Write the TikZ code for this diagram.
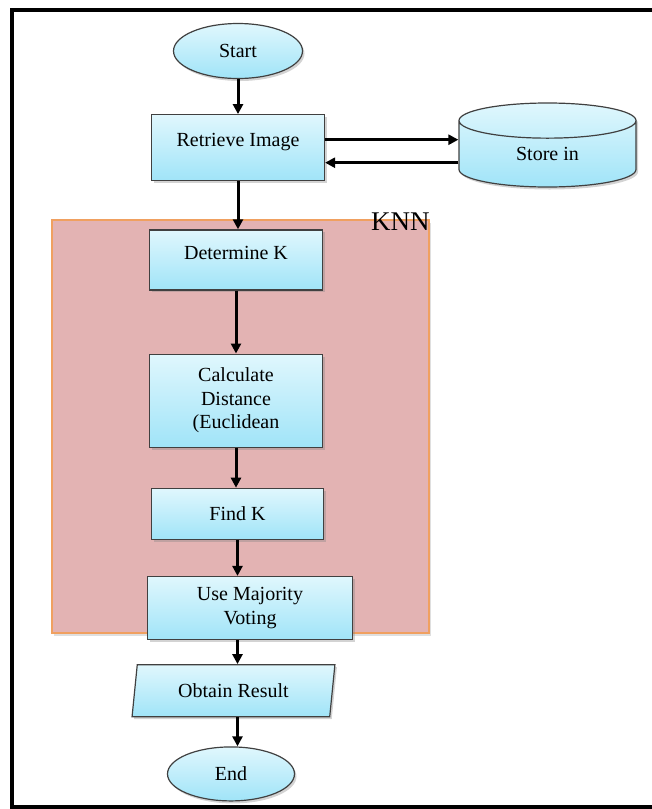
\documentclass[tikz,border=0pt]{standalone}
\usepackage{fontspec}
\setmainfont{Liberation Serif}
\usetikzlibrary{positioning,shapes.geometric,shadows,arrows.meta}
\definecolor{boxtop}{RGB}{224,247,253}
\definecolor{boxbot}{RGB}{160,228,248}
\definecolor{knnfill}{RGB}{227,179,179}
\definecolor{knnline}{RGB}{240,160,96}
\tikzset{
  process/.style={rectangle, draw=black!75, line width=1.2pt, top color=boxtop, bottom color=boxbot,
    inner sep=0pt, align=center, font=\fontsize{20}{23.5}\selectfont,
    drop shadow={shadow xshift=2pt, shadow yshift=-2.5pt, opacity=0.35}},
  terminal/.style={process, ellipse},
  io/.style={process, trapezium, trapezium left angle=78, trapezium right angle=102, trapezium stretches=true},
  store/.style={process, cylinder, shape border rotate=90, aspect=0.56},
  knnbox/.style={rectangle, draw=knnline, line width=1.5pt, fill=knnfill,
    drop shadow={shadow xshift=2pt, shadow yshift=-2.5pt, opacity=0.25}},
  flow/.style={-{Triangle[length=10pt,width=10pt]}, line width=3pt},
}
\begin{document}
\begin{tikzpicture}[x=1pt, y=-1pt]
	\useasboundingbox (0,0) rectangle (652,809);
	% Frame
	\draw[line width=4pt] (652,9.5) -- (12,9.5) -- (12,807) -- (652,807);
	% KNN block
	\node[knnbox, minimum width=377pt, minimum height=413pt] (knn) at (240.5,426.5) {};
	\node[anchor=base east, inner sep=0pt, font=\fontsize{27}{27}\selectfont] (knnlabel) at ([yshift=-11pt]knn.north east) {KNN};
	% Define nodes
	\node[terminal, minimum width=129pt, minimum height=55pt] (start) at (238,51) {Start};
	\node[process, minimum width=173pt, minimum height=66pt, text depth=16pt, below=35pt of start] (retrieve) {Retrieve Image};
	\node[store, minimum width=177pt, minimum height=84pt, anchor=shape center] (store) at (547.5,145) {Store in};
	\node[process, minimum width=173pt, minimum height=60pt, text depth=14pt, below=48pt of retrieve, xshift=-2pt] (determine) {Determine K};
	\node[process, minimum width=173pt, minimum height=93pt, below=63pt of determine] (calc) {Calculate\\Distance\\(Euclidean};
	\node[process, minimum width=172pt, minimum height=51pt, below=40pt of calc, xshift=1.5pt] (find) {Find K};
	\node[process, minimum width=205pt, minimum height=63pt, below=36pt of find, xshift=12.5pt] (vote) {Use Majority\\Voting};
	\node[io, minimum width=203pt, minimum height=52pt, below=24pt of vote, xshift=-16.5pt] (obtain) {Obtain Result};
	\node[terminal, minimum width=127pt, minimum height=54pt, below=29pt of obtain, xshift=-2.5pt] (stop) {End};
	% Connect the nodes
	\draw[flow] (start) -- (retrieve);
	\draw[flow] ([yshift=8pt]retrieve.east) -- ([yshift=8pt]retrieve.east -| store.west);
	\draw[flow] ([yshift=-15pt]retrieve.east -| store.west) -- ([yshift=-15pt]retrieve.east);
	\draw[flow] (retrieve.south) -- (retrieve.south |- determine.north);
	\draw[flow] (determine) -- (calc);
	\draw[flow] (calc) -- (calc.south |- find.north);
	\draw[flow] (find.south) -- (find.south |- vote.north);
	\draw[flow] (vote.south -| find) -- (obtain.north -| find);
	\draw[flow] (obtain.south -| find) -- (stop.north -| find);
\end{tikzpicture}
\end{document}
